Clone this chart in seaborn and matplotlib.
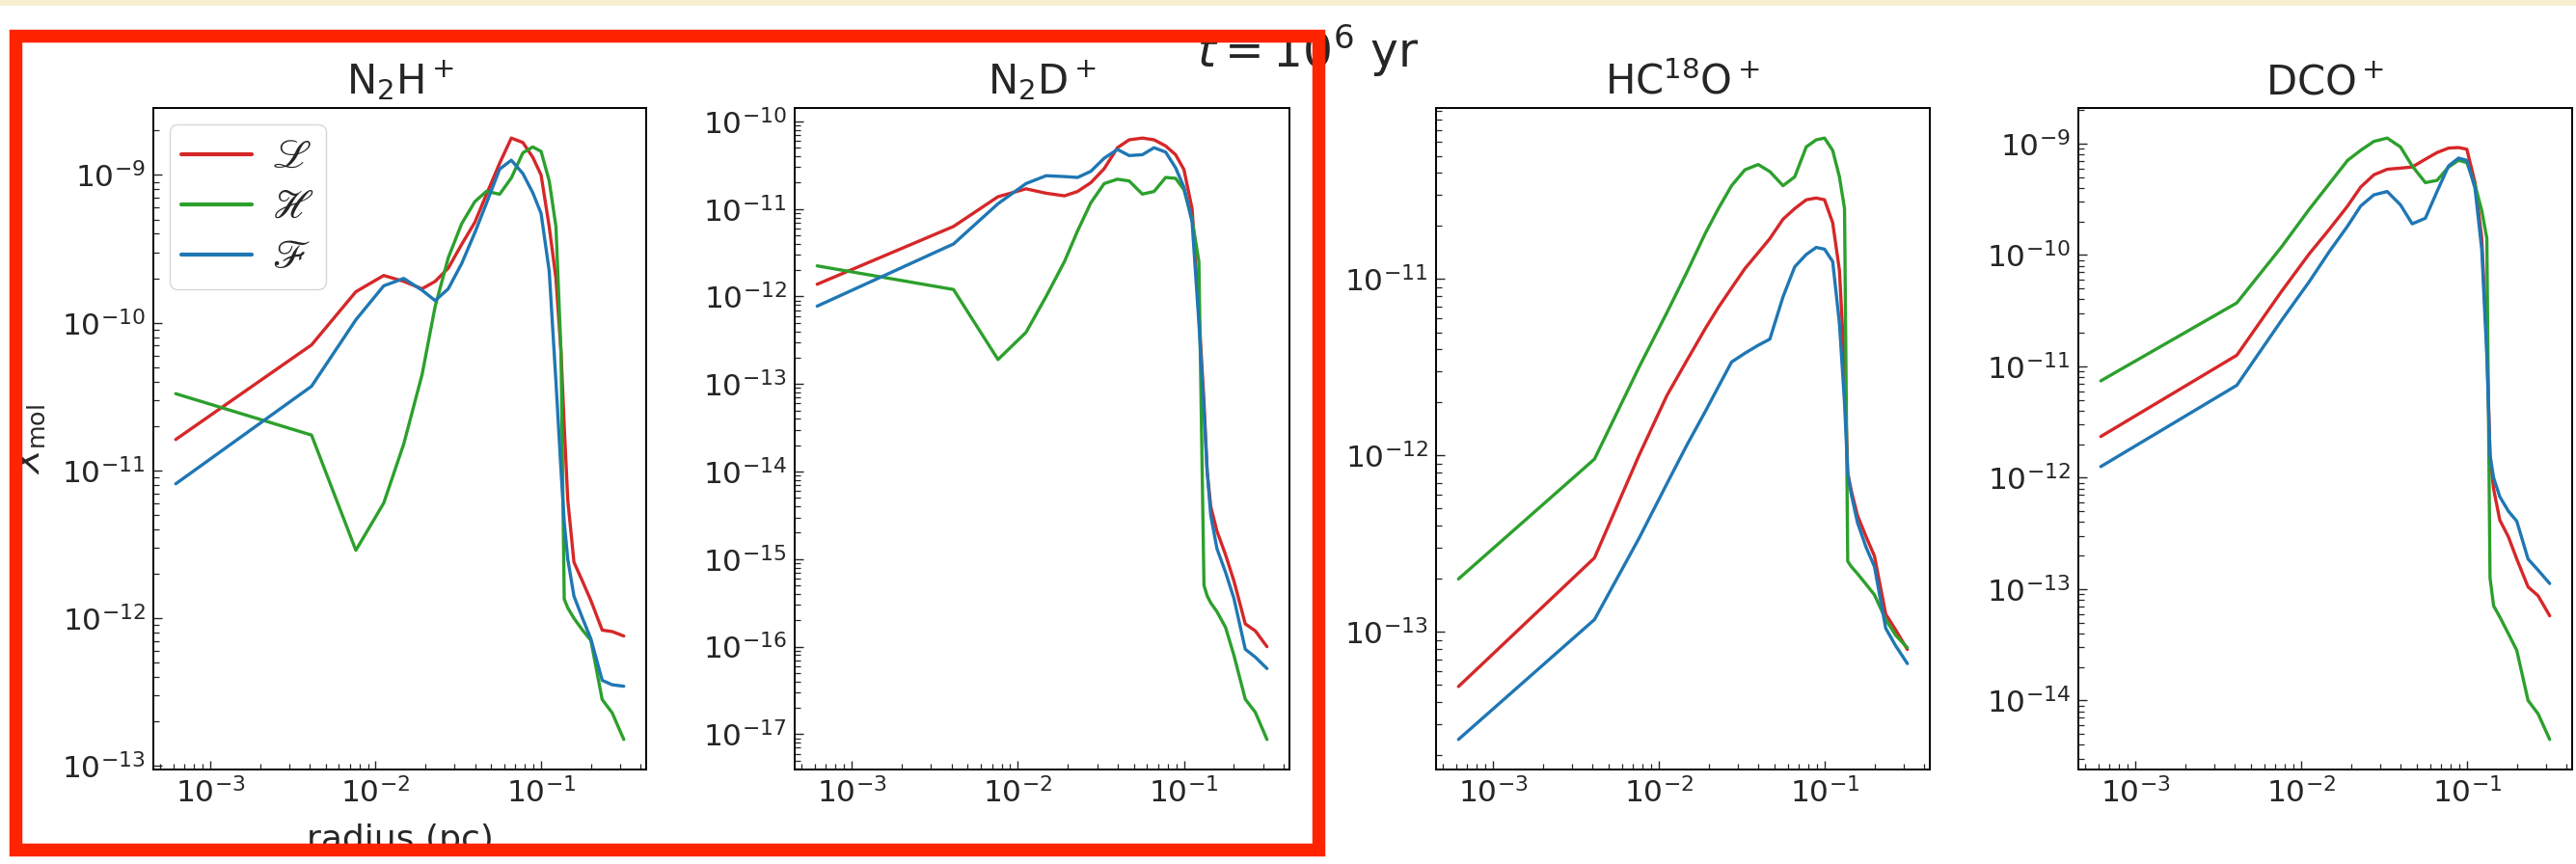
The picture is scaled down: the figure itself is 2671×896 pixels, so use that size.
import numpy as np
import pandas as pd
import matplotlib
matplotlib.use("Agg")
import matplotlib.pyplot as plt
from matplotlib.patches import Rectangle
from matplotlib.lines import Line2D
from matplotlib.font_manager import FontProperties
import seaborn as sns

# ---------------- data ----------------
radius_pc = [6.2e-4, 4.1e-3, 7.6e-3, 1.12e-2, 1.48e-2, 1.91e-2, 2.29e-2, 2.75e-2,
             3.31e-2, 3.98e-2, 4.68e-2, 5.62e-2, 6.61e-2, 7.76e-2, 8.91e-2, 0.100,
             0.112, 0.123, 0.132, 0.138, 0.145, 0.158, 0.178, 0.200, 0.234, 0.269, 0.316]

models = ["L", "H", "F"]
model_labels = [r"$\mathscr{L}$", r"$\mathscr{H}$", r"$\mathscr{F}$"]
model_colors = ["#d62728", "#2ca02c", "#1f77b4"]

species = ["N2H+", "N2D+", "HC18O+", "DCO+"]
species_titles = [r"N$_2$H$^+$", r"N$_2$D$^+$", r"HC$^{18}$O$^+$", r"DCO$^+$"]

# log10 of abundance X_mol
n2hp_L = [-10.79, -10.15, -9.79, -9.68, -9.72, -9.77, -9.72, -9.63, -9.47, -9.32, -9.13, -8.92, -8.75,
          -8.78, -8.88, -9.00, -9.35, -9.70, -10.20, -10.70, -11.20, -11.62, -11.75, -11.88, -12.08, -12.09, -12.12]
n2hp_H = [-10.48, -10.76, -11.54, -11.22, -10.82, -10.35, -9.89, -9.56, -9.33, -9.18, -9.11, -9.13, -9.02,
          -8.85, -8.81, -8.84, -9.04, -9.35, -10.20, -11.87, -11.93, -12.00, -12.08, -12.15, -12.55, -12.64, -12.82]
n2hp_F = [-11.09, -10.43, -9.98, -9.75, -9.70, -9.78, -9.85, -9.77, -9.60, -9.39, -9.19, -8.96, -8.90,
          -8.99, -9.12, -9.26, -9.65, -10.40, -11.00, -11.35, -11.60, -11.85, -12.00, -12.14, -12.42, -12.45, -12.46]

n2dp_L = [-11.86, -11.20, -10.86, -10.77, -10.82, -10.85, -10.80, -10.70, -10.54, -10.30, -10.21, -10.19, -10.21,
          -10.28, -10.38, -10.55, -11.00, -12.20, -13.20, -14.00, -14.40, -14.68, -14.95, -15.25, -15.74, -15.82, -16.00]
n2dp_H = [-11.65, -11.92, -12.72, -12.41, -12.00, -11.60, -11.25, -10.93, -10.71, -10.66, -10.68, -10.83, -10.80,
          -10.64, -10.65, -10.78, -11.12, -11.60, -15.30, -15.42, -15.50, -15.60, -15.78, -16.10, -16.60, -16.75, -17.06]
n2dp_F = [-12.11, -11.40, -10.94, -10.71, -10.62, -10.63, -10.64, -10.57, -10.42, -10.32, -10.39, -10.38, -10.30,
          -10.35, -10.53, -10.75, -11.15, -12.30, -13.30, -14.00, -14.50, -14.88, -15.15, -15.45, -16.03, -16.12, -16.25]

hc18op_L = [-13.31, -12.58, -12.00, -11.66, -11.46, -11.28, -11.16, -11.05, -10.94, -10.85, -10.77, -10.66, -10.60,
            -10.55, -10.54, -10.55, -10.68, -10.95, -11.50, -12.10, -12.20, -12.34, -12.46, -12.57, -12.90, -12.99, -13.10]
hc18op_H = [-12.70, -12.02, -11.50, -11.19, -10.96, -10.74, -10.60, -10.47, -10.38, -10.35, -10.39, -10.47, -10.42,
            -10.25, -10.21, -10.20, -10.27, -10.42, -10.60, -12.60, -12.63, -12.67, -12.73, -12.79, -12.93, -13.02, -13.09]
hc18op_F = [-13.61, -12.93, -12.47, -12.16, -11.94, -11.75, -11.61, -11.47, -11.42, -11.375, -11.34, -11.10, -10.93,
            -10.86, -10.82, -10.83, -10.90, -11.25, -11.70, -12.10, -12.22, -12.38, -12.52, -12.63, -12.98, -13.08, -13.18]

dcop_L = [-11.63, -10.90, -10.33, -9.99, -9.77, -9.56, -9.39, -9.28, -9.23, -9.22, -9.21, -9.14, -9.08,
          -9.04, -9.035, -9.05, -9.35, -9.85, -10.80, -11.80, -12.10, -12.38, -12.53, -12.73, -12.98, -13.06, -13.24]
dcop_H = [-11.13, -10.43, -9.93, -9.59, -9.36, -9.15, -9.06, -8.98, -8.95, -9.03, -9.20, -9.35, -9.33,
          -9.21, -9.15, -9.17, -9.37, -9.60, -9.85, -12.90, -13.15, -13.25, -13.40, -13.55, -14.00, -14.12, -14.35]
dcop_F = [-11.90, -11.17, -10.59, -10.24, -9.97, -9.74, -9.56, -9.46, -9.43, -9.55, -9.72, -9.67, -9.43,
          -9.20, -9.13, -9.15, -9.40, -9.95, -10.90, -11.80, -12.00, -12.17, -12.30, -12.39, -12.73, -12.83, -12.95]

series = {
    "N2H+": [n2hp_L, n2hp_H, n2hp_F],
    "N2D+": [n2dp_L, n2dp_H, n2dp_F],
    "HC18O+": [hc18op_L, hc18op_H, hc18op_F],
    "DCO+": [dcop_L, dcop_H, dcop_F],
}

suptitle_text = r"$t = 10^6$ yr"

# ---------------- build long table ----------------
rows = []
for sp in species:
    for m, vals in zip(models, series[sp]):
        for r, lv in zip(radius_pc, vals):
            rows.append({"species": sp, "model": m, "radius": r, "X": 10.0 ** lv})
df = pd.DataFrame(rows)

# ---------------- figure ----------------
sns.set_style("white")
plt.rcParams["font.family"] = ["DejaVu Sans"]
plt.rcParams["mathtext.fontset"] = "dejavusans"

W, H = 2671, 896
fig = plt.figure(figsize=(W / 100, H / 100), dpi=100)

# screenshot band at top
fig.patches.append(Rectangle((0, 1 - 6 / H), 1, 6 / H, transform=fig.transFigure,
                             facecolor="#f8efd1", edgecolor="none", zorder=0))

axes_px = [(159, 670), (824, 1337), (1489, 2001), (2155, 2667)]
top_px, bot_px = 112, 798
tick_fs = 22.5
palette = dict(zip(models, model_colors))

axes = []
for i, (sp, title) in enumerate(zip(species, species_titles)):
    l, r = axes_px[i]
    ax = fig.add_axes([l / W, 1 - bot_px / H, (r - l) / W, (bot_px - top_px) / H])
    axes.append(ax)
    sub = df[df["species"] == sp]
    sns.lineplot(data=sub, x="radius", y="X", hue="model", hue_order=models,
                 palette=palette, linewidth=2.4, ax=ax, legend=False,
                 estimator=None, sort=False)
    ax.set_xscale("log")
    ax.set_yscale("log")
    ax.margins(x=0.05, y=0.05)
    ax.autoscale_view()
    ax.set_title(title, fontsize=30, pad=10.5)
    ax.set_xlabel("")
    ax.set_ylabel("")
    ax.tick_params(axis="both", which="both", direction="in", top=False, right=False,
                   left=True, bottom=True, labelsize=tick_fs)
    ax.tick_params(axis="both", which="major", length=6.5, width=1.0, pad=6)
    ax.tick_params(axis="both", which="minor", length=4.0, width=0.9)
    ax.yaxis.set_major_locator(matplotlib.ticker.LogLocator(base=10, numticks=20))
    ax.yaxis.set_minor_locator(matplotlib.ticker.LogLocator(base=10, subs=np.arange(2, 10), numticks=20))
    ax.xaxis.set_major_locator(matplotlib.ticker.LogLocator(base=10, numticks=20))
    ax.xaxis.set_minor_locator(matplotlib.ticker.LogLocator(base=10, subs=np.arange(2, 10), numticks=20))
    for s in ax.spines.values():
        s.set_linewidth(1.4)
        s.set_color("black")
        s.set_visible(True)

ax0 = axes[0]
ax0.set_xlabel("radius (pc)", fontsize=26)
ax0.xaxis.set_label_coords(0.5, -0.082)
ax0.xaxis.label.set_va("top")
ax0.set_ylabel(r"$X_{\rm mol}$", fontsize=26)
ax0.yaxis.set_label_coords(-0.215, 0.5)

handles = [Line2D([], [], color=c, lw=3.0) for c in model_colors]
ax0.legend(handles, model_labels, loc="upper left",
           prop=FontProperties(size=30, math_fontfamily="stix"),
           handlelength=1.75, labelspacing=0.24, borderpad=0.3, handletextpad=0.5,
           borderaxespad=0.4, frameon=True, fancybox=True)

fig.text(1356 / W, 1 - 70 / H, suptitle_text, fontsize=35, ha="center", va="baseline")

# red highlight box around the first two panels
fig.patches.append(Rectangle((15.5 / W, 1 - 880.5 / H), (1367 - 15.5) / W, (880.5 - 37) / H,
                             transform=fig.transFigure, fill=False, edgecolor="#ff2400",
                             linewidth=9.7, joinstyle="miter", zorder=10))

fig.savefig("out.png", dpi=100)
